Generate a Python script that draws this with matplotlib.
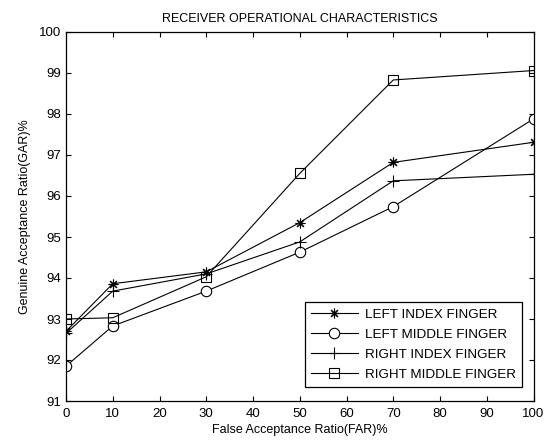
import matplotlib
matplotlib.use("Agg")
import matplotlib.pyplot as plt

plt.rcParams['font.family'] = ['Liberation Sans', 'DejaVu Sans']

far = [0, 10, 30, 50, 70, 100]
left_index = [92.70, 93.86, 94.15, 95.35, 96.82, 97.31]
left_middle = [91.85, 92.83, 93.68, 94.63, 95.74, 97.88]
right_index = [92.65, 93.68, 94.10, 94.88, 96.37, 96.53]
right_middle = [93.00, 93.03, 94.03, 96.55, 98.83, 99.06]
labels = ['LEFT INDEX FINGER', 'LEFT MIDDLE FINGER', 'RIGHT INDEX FINGER', 'RIGHT MIDDLE FINGER']

fig = plt.figure(figsize=(5.52, 4.41), dpi=100)
ax = fig.add_axes([66/552, 1-401/441, 467.5/552, 369/441])

lw = 0.8
ax.plot(far, left_index, color='k', lw=lw, marker=(8, 2, 0), ms=7, mew=0.8, label=labels[0])
ax.plot(far, left_middle, color='k', lw=lw, marker='o', ms=7.5, mfc='white', mew=0.8, label=labels[1])
ax.plot(far, right_index, color='k', lw=lw, marker='+', ms=9, mew=0.8, label=labels[2])
ax.plot(far, right_middle, color='k', lw=lw, marker='s', ms=7, mfc='none', mew=0.8, label=labels[3])

ax.set_xlim(0, 100)
ax.set_ylim(91, 100)
ax.set_xticks(range(0, 101, 10))
ax.set_yticks(range(91, 101))
ax.tick_params(direction='in', length=3.5, top=True, right=True, labelsize=9.5, width=0.8)
ax.tick_params(axis='x', pad=5)
for s in ax.spines.values():
    s.set_linewidth(0.9)

ax.set_title('RECEIVER OPERATIONAL CHARACTERISTICS', fontsize=9, pad=7)
ax.set_xlabel('False Acceptance Ratio(FAR)%', fontsize=9, labelpad=3)
ax.set_ylabel('Genuine Acceptance Ratio(GAR)%', fontsize=9, labelpad=6)

leg = ax.legend(loc='lower right', bbox_to_anchor=(0.975, 0.038), borderaxespad=0,
                fontsize=9.7, fancybox=False, framealpha=1, edgecolor='k',
                handlelength=3.5, handletextpad=0.5, labelspacing=0.56, borderpad=0.45)
leg.get_frame().set_linewidth(0.9)

fig.savefig('out.png', dpi=100)
